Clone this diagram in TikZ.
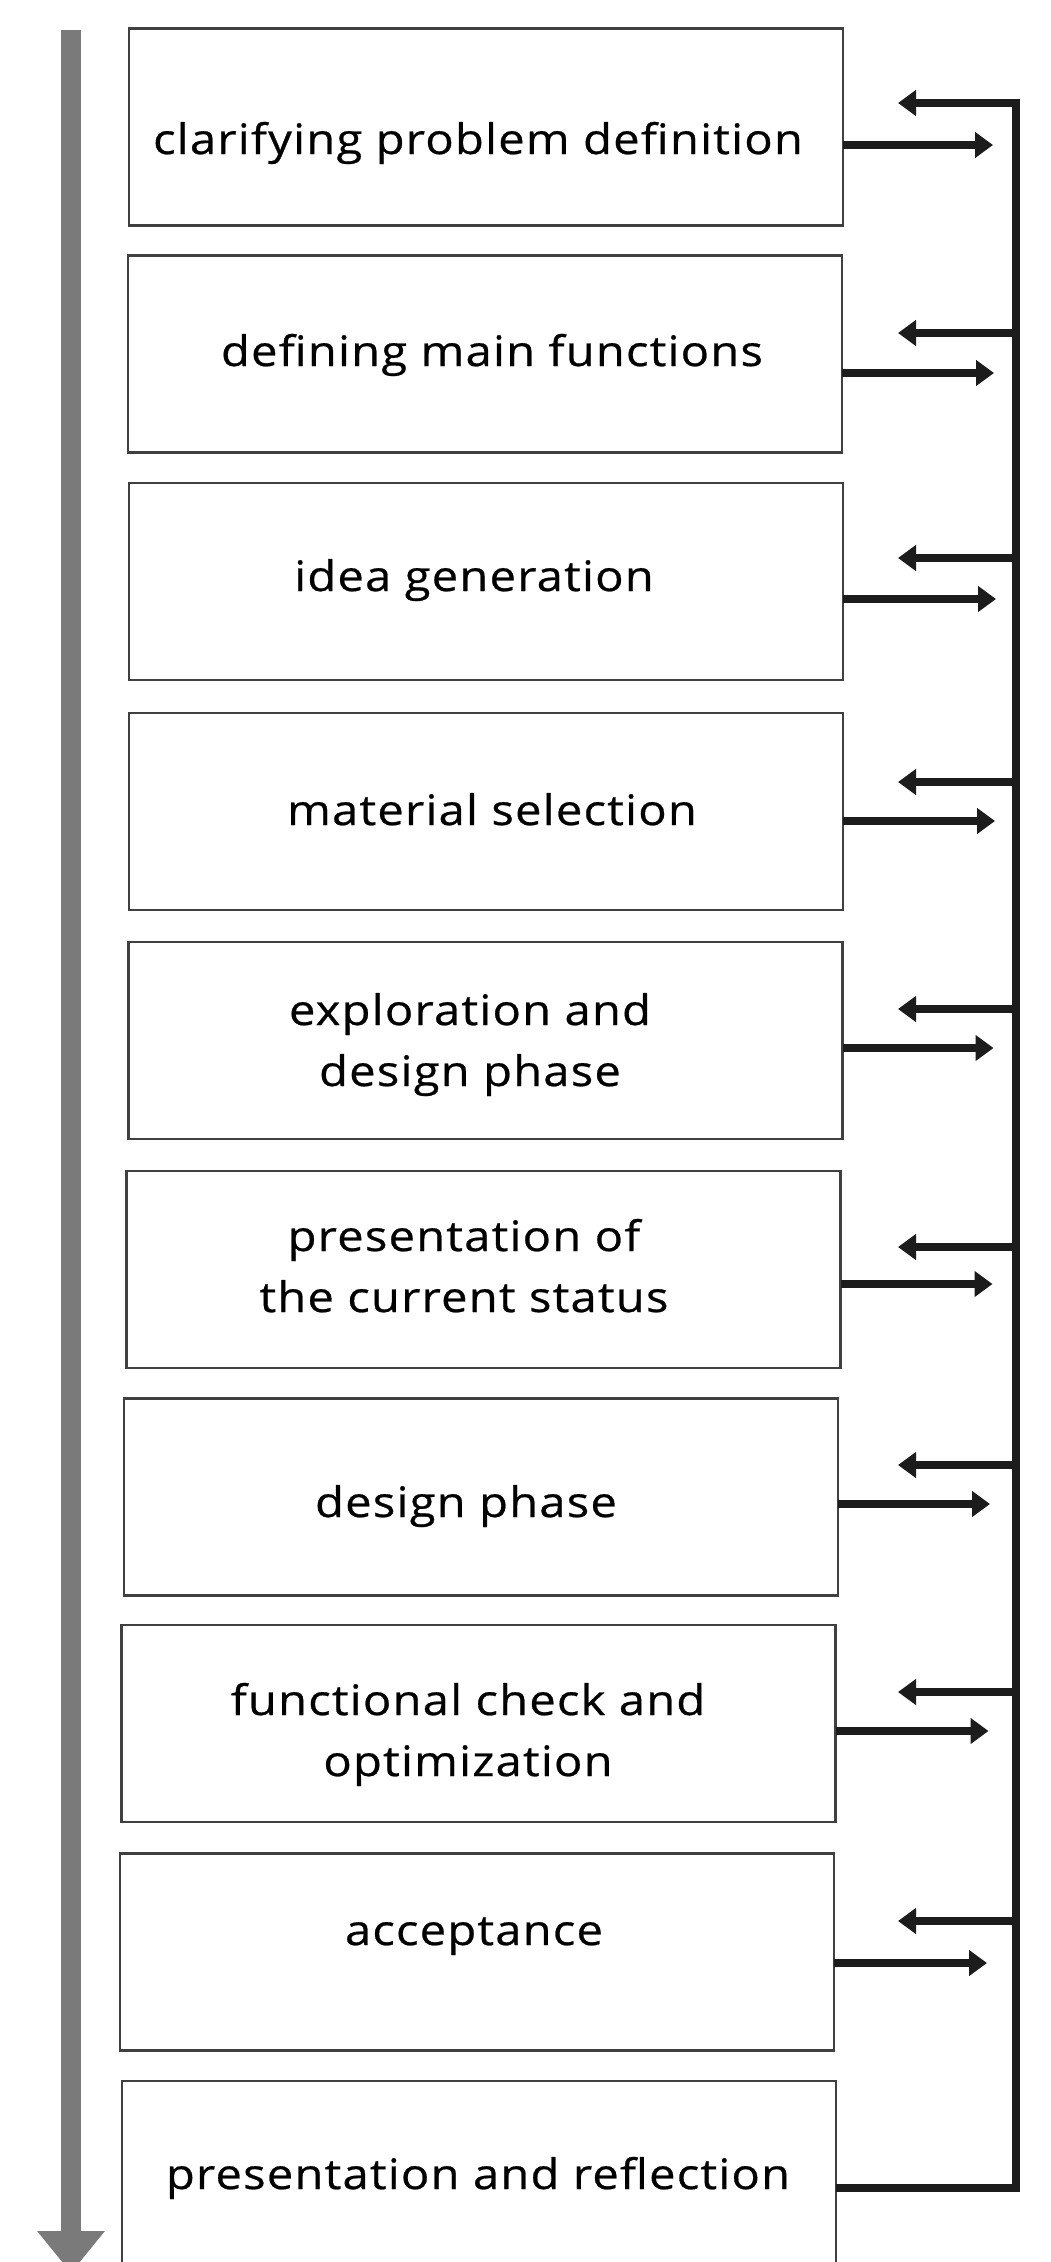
\documentclass[tikz,border=0pt]{standalone}
\usepackage{fontspec}
\setmainfont{Open Sans}[LetterSpace=3,FakeStretch=1.12,FakeBold=0.6]
\usetikzlibrary{arrows.meta}
\definecolor{arrgray}{RGB}{122,122,122}
\definecolor{ink}{RGB}{28,28,28}
\begin{document}
\begin{tikzpicture}[x=1pt,y=-1pt,
  box/.style={draw=black!75, line width=2.2pt, inner sep=0pt, outer sep=0pt,
    minimum width=714pt, minimum height=197pt},
  lbl/.style={font=\fontsize{42}{61}\selectfont, align=center, inner sep=0pt,
    anchor=base, text=black},
  fb/.style={line width=8pt, draw=ink, -{Triangle[length=18pt,width=25pt]}},
  sp/.style={line width=8pt, draw=ink, line join=miter}]
\useasboundingbox (0,0) rectangle (1051,2262);
\fill[white] (0,0) rectangle (1051,2262);
\clip (0,0) rectangle (1051,2262);

% boxes
\node[box] (b1)  at (486,127)    {};
\node[box] (b2)  at (485,354)    {};
\node[box] (b3)  at (486,581.5)  {};
\node[box] (b4)  at (486,811.5)  {};
\node[box] (b5)  at (485.5,1040.5) {};
\node[box] (b6)  at (483.5,1269.5) {};
\node[box] (b7)  at (481,1497)   {};
\node[box] (b8)  at (478.5,1723.5) {};
\node[box] (b9)  at (477,1952)   {};
\node[box] (b10) at (479,2179.5) {};

% labels (base anchor = last line)
\node[lbl] (t1)  at (478,154)  {clarifying problem definition};
\node[lbl] (t2)  at (492,366)  {defining main functions};
\node[lbl] (t3)  at (474,591)  {idea generation};
\node[lbl] (t4)  at (492,825)  {material selection};
\node[lbl] (t5)  at (470,1086) {exploration and\\design phase};
\node[lbl] (t6)  at (464,1312) {presentation of\\the current status};
\node[lbl] (t7)  at (466,1517) {design phase};
\node[lbl] (t8)  at (468,1776) {functional check and\\optimization};
\node[lbl] (t9)  at (474,1945) {acceptance};
\node[lbl] (t10) at (478,2189) {presentation and reflection};

% gray process arrow
\draw[line width=20pt, arrgray, -{Triangle[length=42pt,width=65pt]}] (71,30) -- (71,2273);

% spine with feedback
\coordinate (spine) at (1016,0);
\draw[sp, -{Triangle[length=18pt,width=25pt]}] (b10.east |- 0,2188) -| (spine |- 0,103) -- ++(-118,0);

% left arrows from spine
\foreach \y in {333,558,782,1009,1247,1465,1692,1921}
  \draw[fb] (spine |- 0,\y) -- ++(-118,0);

% right arrows from boxes
\draw[fb] (b1.east |- 0,145)  -- ++(150,0);
\draw[fb] (b2.east |- 0,373)  -- ++(152,0);
\draw[fb] (b3.east |- 0,599)  -- ++(153,0);
\draw[fb] (b4.east |- 0,821)  -- ++(152,0);
\draw[fb] (b5.east |- 0,1048) -- ++(151,0);
\draw[fb] (b6.east |- 0,1284) -- ++(152,0);
\draw[fb] (b7.east |- 0,1504) -- ++(152,0);
\draw[fb] (b8.east |- 0,1731) -- ++(153,0);
\draw[fb] (b9.east |- 0,1963) -- ++(153,0);
\end{tikzpicture}
\end{document}
